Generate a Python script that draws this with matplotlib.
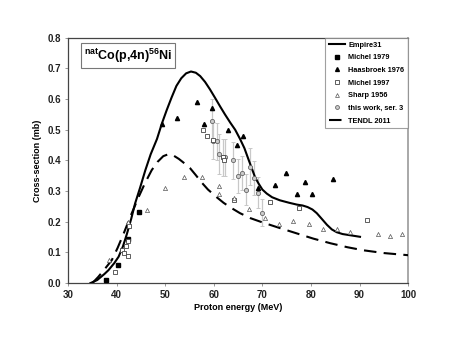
import matplotlib
matplotlib.use("Agg")
import matplotlib.pyplot as plt
from matplotlib.lines import Line2D

plt.rcParams['font.family'] = ['Liberation Sans', 'DejaVu Sans']
plt.rcParams['font.weight'] = 'bold'
plt.rcParams['mathtext.fontset'] = 'custom'
plt.rcParams['mathtext.rm'] = 'Liberation Sans:bold'
plt.rcParams['mathtext.bf'] = 'Liberation Sans:bold'
plt.rcParams['mathtext.it'] = 'Liberation Sans:bold'
plt.rcParams['mathtext.default'] = 'bf'

# ---------------- data ----------------
empire_x = [34.6, 36.0, 37.5, 38.3, 39.5, 40.4, 41.3, 42.1, 43.0, 43.8, 44.8, 45.9,
            47.0, 48.3, 49.3, 50.3, 51.3, 52.3, 53.3, 54.3, 55.3, 56.3, 57.2, 58.2,
            59.2, 60.3, 61.3, 62.3, 63.4, 64.4, 65.4, 66.3, 67.1, 67.8, 68.5, 69.2,
            70.0, 70.9, 72.0, 73.6, 75.5, 77.1, 78.3, 79.3, 80.3, 81.2, 82.2, 83.3,
            84.3, 85.3, 86.5, 88.1, 90.1]
empire_y = [0.0, 0.01, 0.03, 0.042, 0.065, 0.086, 0.12, 0.16, 0.21, 0.26, 0.31, 0.368,
            0.42, 0.47, 0.52, 0.564, 0.605, 0.643, 0.668, 0.684, 0.69, 0.686, 0.675, 0.656,
            0.632, 0.603, 0.576, 0.55, 0.523, 0.5, 0.47, 0.44, 0.405, 0.375, 0.345, 0.325,
            0.305, 0.292, 0.28, 0.27, 0.262, 0.256, 0.253, 0.248, 0.24, 0.228, 0.21, 0.19,
            0.175, 0.166, 0.16, 0.156, 0.151]

tendl_x = [35.0, 36.2, 37.5, 39.0, 40.2, 41.4, 42.9, 44.5, 45.8, 47.2, 48.4, 49.6,
           50.6, 51.5, 52.8, 54.0, 55.1, 56.3, 57.5, 58.8, 60.6, 62.0, 63.4, 65.4,
           67.5, 70.0, 73.5, 77.1, 80.5, 84.0, 87.5, 90.8, 95.0, 100.0]
tendl_y = [0.0, 0.02, 0.045, 0.075, 0.115, 0.16, 0.22, 0.28, 0.325, 0.368, 0.395, 0.414,
           0.42, 0.418, 0.405, 0.39, 0.375, 0.352, 0.328, 0.305, 0.28, 0.262, 0.247, 0.228,
           0.212, 0.198, 0.18, 0.162, 0.145, 0.13, 0.117, 0.107, 0.098, 0.091]

michel1979_x = [37.8, 40.2, 42.3, 44.5]
michel1979_y = [0.01, 0.06, 0.145, 0.232]

haas_x = [49.4, 52.4, 56.5, 58.0, 59.6, 62.9, 64.7, 66.1, 69.0, 72.6, 74.9, 77.1, 78.8, 80.3, 84.5]
haas_y = [0.52, 0.54, 0.59, 0.52, 0.57, 0.50, 0.45, 0.48, 0.31, 0.32, 0.36, 0.29, 0.33, 0.29, 0.34]

michel1997_x = [39.7, 41.1, 41.5, 41.9, 42.4, 42.4, 42.6, 57.7, 58.5, 59.8, 61.8, 62.0,
                64.2, 71.6, 77.6, 91.5]
michel1997_y = [0.037, 0.107, 0.099, 0.12, 0.088, 0.138, 0.186, 0.50, 0.48, 0.466, 0.41, 0.40,
                0.27, 0.266, 0.246, 0.205]

sharp_x = [38.5, 42.3, 46.2, 50.0, 53.8, 57.5, 61.1, 61.1, 64.2, 67.3, 70.6, 73.5,
           76.4, 79.6, 82.4, 85.3, 88.1, 93.7, 96.3, 98.8]
sharp_y = [0.075, 0.20, 0.238, 0.31, 0.345, 0.345, 0.317, 0.29, 0.276, 0.241, 0.213, 0.194,
           0.203, 0.192, 0.176, 0.176, 0.167, 0.159, 0.154, 0.159]

work_x = [59.7, 59.9, 60.6, 61.1, 61.8, 62.3, 64.0, 65.0, 65.8, 66.6, 67.5, 68.3, 69.0, 69.9]
work_y = [0.53, 0.465, 0.462, 0.42, 0.41, 0.41, 0.40, 0.35, 0.36, 0.305, 0.38, 0.343, 0.295, 0.23]
work_err = [0.07, 0.06, 0.06, 0.065, 0.06, 0.06, 0.06, 0.055, 0.055, 0.05, 0.06, 0.055, 0.05, 0.045]

x_ticks = [30, 40, 50, 60, 70, 80, 90, 100]
y_ticks = [0.0, 0.1, 0.2, 0.3, 0.4, 0.5, 0.6, 0.7, 0.8]

# ---------------- figure ----------------
fig = plt.figure(figsize=(4.57, 3.53), dpi=100)
ax = fig.add_axes([0.149, 0.198, 0.744, 0.695])

ax.plot(empire_x, empire_y, color='black', lw=1.5, zorder=3)
ax.plot(tendl_x, tendl_y, color='black', lw=1.5, dashes=(6, 3.5), zorder=3)

ax.errorbar(work_x, work_y, yerr=work_err, fmt='none', ecolor='#c8c8c8', elinewidth=0.9,
            capsize=1.3, capthick=0.7, zorder=2)
ax.plot(work_x, work_y, 'o', ms=3.0, mfc='#cccccc', mec='#666666', mew=0.6, ls='none', zorder=4)
ax.plot(michel1979_x, michel1979_y, 's', ms=2.8, mfc='black', mec='black', ls='none', zorder=4)
ax.plot(haas_x, haas_y, '^', ms=3.0, mfc='black', mec='black', ls='none', zorder=4)
ax.plot(michel1997_x, michel1997_y, 's', ms=2.8, mfc='white', mec='#444444', mew=0.6, ls='none', zorder=4)
ax.plot(sharp_x, sharp_y, '^', ms=3.0, mfc='white', mec='#555555', mew=0.5, ls='none', zorder=4)

ax.set_xlim(30, 100)
ax.set_ylim(0, 0.8)
ax.set_xticks(x_ticks)
ax.set_yticks(y_ticks)
ax.set_xticklabels([str(v) for v in x_ticks], fontsize=7, fontweight='bold', color='#222222')
ax.set_yticklabels([f"{v:.1f}" for v in y_ticks], fontsize=7, fontweight='bold', color='#222222')
ax.tick_params(axis='both', length=2, width=0.6, color='#888888', pad=3)
ax.set_xlabel('Proton energy (MeV)', fontsize=6.5, fontweight='bold', labelpad=2)
ax.set_ylabel('Cross-section (mb)', fontsize=6.5, fontweight='bold', labelpad=4)

for side in ['left', 'bottom', 'top']:
    ax.spines[side].set_color('#444444')
    ax.spines[side].set_linewidth(0.9)
ax.spines['right'].set_color('#999999')
ax.spines['right'].set_linewidth(1.2)

ax.text(0.047, 0.965, r'$^{nat}$Co(p,4n)$^{56}$Ni', transform=ax.transAxes,
        fontsize=9, fontweight='bold', ha='left', va='top',
        bbox=dict(boxstyle='square,pad=0.25', fc='white', ec='#777777', lw=0.8))

handles = [
    Line2D([], [], color='black', lw=1.5),
    Line2D([], [], marker='s', ms=2.6, mfc='black', mec='black', ls='none'),
    Line2D([], [], marker='^', ms=2.8, mfc='black', mec='black', ls='none'),
    Line2D([], [], marker='s', ms=2.6, mfc='white', mec='#444444', mew=0.6, ls='none'),
    Line2D([], [], marker='^', ms=2.8, mfc='white', mec='#555555', mew=0.5, ls='none'),
    Line2D([], [], marker='o', ms=2.8, mfc='#cccccc', mec='#666666', mew=0.6, ls='none'),
    Line2D([], [], color='black', lw=1.5, dashes=(6, 3.5)),
]
labels = ['Empire31', 'Michel 1979', 'Haasbroek 1976', 'Michel 1997', 'Sharp 1956',
          'this work, ser. 3', 'TENDL 2011']
leg = ax.legend(handles, labels, loc='upper right', bbox_to_anchor=(1.0, 1.0),
                fontsize=5.3, frameon=True, fancybox=False, handlelength=2.2,
                handletextpad=0.4, labelspacing=0.75, borderpad=0.5, borderaxespad=0.0)
leg.get_frame().set_edgecolor('#888888')
leg.get_frame().set_linewidth(0.8)
for t in leg.get_texts():
    t.set_fontweight('bold')

fig.savefig('out.png', dpi=100)
